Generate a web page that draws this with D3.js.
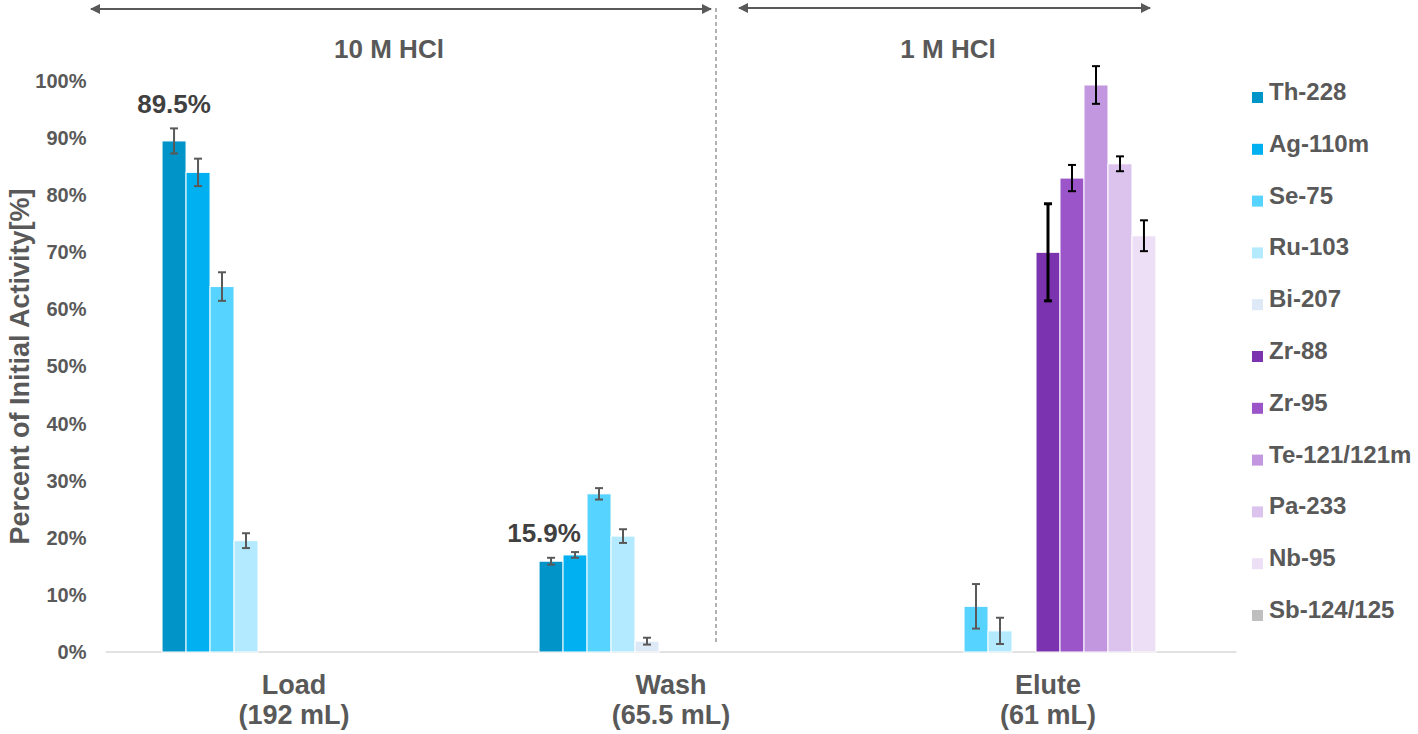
<!DOCTYPE html>
<html>
<head>
<meta charset="utf-8">
<script src="https://cdn.jsdelivr.net/npm/d3@7"></script>
<style>
  html, body { margin: 0; padding: 0; background: #fff; }
  svg { display: block; font-family: "Liberation Sans", Arial, sans-serif; }
</style>
</head>
<body>
<svg id="chart" width="1418" height="734"></svg>
<script>
// ---------------- DATA ----------------
const categories = ["Load", "Wash", "Elute"];
const categoryVolumes = ["(192 mL)", "(65.5 mL)", "(61 mL)"];
const seriesNames = ["Th-228", "Ag-110m", "Se-75", "Ru-103", "Bi-207", "Zr-88", "Zr-95", "Te-121/121m", "Pa-233", "Nb-95", "Sb-124/125"];

// percent of initial activity per category (Load, Wash, Elute); null = no bar
const th228  = [89.5, 15.9, null];
const ag110m = [84.0, 17.0, null];
const se75   = [64.0, 27.7, 8.0];
const ru103  = [19.5, 20.3, 3.7];
const bi207  = [null, 1.9, null];
const zr88   = [null, null, 70.0];
const zr95   = [null, null, 83.0];
const te121  = [null, null, 99.3];
const pa233  = [null, null, 85.5];
const nb95   = [null, null, 72.9];
const sb124  = [null, null, null];

// error (+/-, percent)
const th228Err  = [2.2, 0.6, null];
const ag110mErr = [2.4, 0.5, null];
const se75Err   = [2.5, 1.0, 3.9];
const ru103Err  = [1.3, 1.2, 2.3];
const bi207Err  = [null, 0.6, null];
const zr88Err   = [null, null, 8.5];
const zr95Err   = [null, null, 2.3];
const te121Err  = [null, null, 3.3];
const pa233Err  = [null, null, 1.3];
const nb95Err   = [null, null, 2.7];
const sb124Err  = [null, null, null];

const yTicks = [0, 0.1, 0.2, 0.3, 0.4, 0.5, 0.6, 0.7, 0.8, 0.9, 1.0];
const solutionLabels = ["10 M HCl", "1 M HCl"];
const annotations = [
  { series: "Th-228", category: "Load", text: "89.5%" },
  { series: "Th-228", category: "Wash", text: "15.9%" }
];

// ---------------- STYLE ----------------
const colors = ["#0094c8", "#00b0f0", "#57d3ff", "#b3eaff", "#dde9f6", "#7b33b0", "#9b55c9", "#c297df", "#dcc3ed", "#ede0f6", "#bfbfbf"];
const errColors = ["#595959", "#595959", "#595959", "#595959", "#595959", "#000", "#000", "#000", "#000", "#000", "#000"];
const errWidths = [2, 2, 2, 2, 2, 3, 2, 2, 2, 2, 2];

const values = [th228, ag110m, se75, ru103, bi207, zr88, zr95, te121, pa233, nb95, sb124];
const errors = [th228Err, ag110mErr, se75Err, ru103Err, bi207Err, zr88Err, zr95Err, te121Err, pa233Err, nb95Err, sb124Err];

const rows = [];
seriesNames.forEach((s, si) => {
  categories.forEach((c, ci) => {
    const v = values[si][ci];
    if (v != null) rows.push({ series: s, si, category: c, value: v / 100, err: errors[si][ci] != null ? errors[si][ci] / 100 : null });
  });
});

// ---------------- SCALES ----------------
const svg = d3.select("#chart");
const plotLeft = 105.5, plotRight = 1236.5, plotBottom = 652, plotTop = 81;

const x0 = d3.scaleBand().domain(categories).range([plotLeft, plotRight]).paddingInner(0.3).paddingOuter(0.15);
const x1 = d3.scaleBand().domain(seriesNames).range([0, x0.bandwidth()]);
const y = d3.scaleLinear().domain([0, 1]).range([plotBottom, plotTop]);
const color = d3.scaleOrdinal().domain(seriesNames).range(colors);

// ---------------- TOP ARROWS & DIVIDER ----------------
const defs = svg.append("defs");
["arrEnd", "arrStart"].forEach((id, i) => {
  defs.append("marker").attr("id", id)
    .attr("viewBox", "0 0 10 10").attr("refX", i === 0 ? 9 : 1).attr("refY", 5)
    .attr("markerWidth", 5).attr("markerHeight", 5).attr("markerUnits", "strokeWidth")
    .attr("orient", "auto")
    .append("path")
    .attr("d", i === 0 ? "M0,0 L10,5 L0,10 Z" : "M10,0 L0,5 L10,10 Z")
    .attr("fill", "#595959");
});

const arrows = [
  { x1: 91, x2: 711, y: 9, labelX: 389 },
  { x1: 739, x2: 1150, y: 8, labelX: 948 }
];
arrows.forEach((a, i) => {
  svg.append("line")
    .attr("x1", a.x1).attr("x2", a.x2).attr("y1", a.y).attr("y2", a.y)
    .attr("stroke", "#595959").attr("stroke-width", 2)
    .attr("marker-start", "url(#arrStart)").attr("marker-end", "url(#arrEnd)");
  svg.append("text")
    .attr("x", a.labelX).attr("y", 58)
    .attr("text-anchor", "middle")
    .style("font-family", "'Liberation Sans Narrow', 'Arial Narrow', 'Liberation Sans', sans-serif")
    .style("font-weight", "bold").style("font-size", "26px").attr("fill", "#595959")
    .text(solutionLabels[i]);
});

svg.append("line")
  .attr("x1", 716).attr("x2", 716).attr("y1", 8).attr("y2", 643)
  .attr("stroke", "#7f7f7f").attr("stroke-width", 1.2).attr("stroke-dasharray", "4,3");

// ---------------- AXES ----------------
const yAxis = svg.append("g")
  .attr("transform", `translate(${plotLeft},0)`)
  .call(d3.axisLeft(y).tickValues(yTicks).tickFormat(d3.format(".0%")).tickSize(0).tickPadding(19));
yAxis.select(".domain").remove();
yAxis.selectAll("text")
  .style("font-family", "'Liberation Sans', Arial, sans-serif")
  .style("font-size", "20px").style("font-weight", "bold").attr("fill", "#595959");

svg.append("line")
  .attr("x1", plotLeft).attr("x2", plotRight).attr("y1", plotBottom).attr("y2", plotBottom)
  .attr("stroke", "#d9d9d9").attr("stroke-width", 1.5);

svg.append("text")
  .attr("transform", `translate(29,${(plotTop + plotBottom) / 2}) rotate(-90)`)
  .attr("text-anchor", "middle")
  .style("font-size", "27px").style("font-weight", "bold").attr("fill", "#595959")
  .text("Percent of Initial Activity[%]");

const xLab = svg.append("g").selectAll("text").data(categories).join("text")
  .attr("x", d => x0(d) + x0.bandwidth() / 2)
  .attr("text-anchor", "middle")
  .style("font-size", "27px").style("font-weight", "bold").attr("fill", "#595959");
xLab.append("tspan").attr("x", d => x0(d) + x0.bandwidth() / 2).attr("y", 694).text(d => d);
xLab.append("tspan").attr("x", d => x0(d) + x0.bandwidth() / 2).attr("y", 724).text((d, i) => categoryVolumes[i]);

// ---------------- BARS ----------------
svg.append("g").selectAll("rect").data(rows).join("rect")
  .attr("x", d => x0(d.category) + x1(d.series))
  .attr("y", d => y(d.value))
  .attr("width", x1.bandwidth())
  .attr("height", d => y(0) - y(d.value))
  .attr("fill", d => color(d.series))
  .attr("stroke", "#fff").attr("stroke-width", 1);

// ---------------- ERROR BARS ----------------
const eg = svg.append("g");
rows.filter(d => d.err != null).forEach(d => {
  const cx = x0(d.category) + x1(d.series) + x1.bandwidth() / 2;
  const yt = y(d.value + d.err), yb = y(d.value - d.err);
  const st = errColors[d.si], sw = errWidths[d.si];
  const cap = 4;
  eg.append("line").attr("x1", cx).attr("x2", cx).attr("y1", yt).attr("y2", yb).attr("stroke", st).attr("stroke-width", sw);
  eg.append("line").attr("x1", cx - cap).attr("x2", cx + cap).attr("y1", yt).attr("y2", yt).attr("stroke", st).attr("stroke-width", sw);
  eg.append("line").attr("x1", cx - cap).attr("x2", cx + cap).attr("y1", yb).attr("y2", yb).attr("stroke", st).attr("stroke-width", sw);
});

// ---------------- ANNOTATIONS ----------------
const annOffsets = [{ dx: 0, dy: -28 }, { dx: -7, dy: -19 }];
annotations.forEach((a, i) => {
  const si = seriesNames.indexOf(a.series), ci = categories.indexOf(a.category);
  const cx = x0(a.category) + x1(a.series) + x1.bandwidth() / 2;
  svg.append("text")
    .attr("x", cx + annOffsets[i].dx).attr("y", y(values[si][ci] / 100) + annOffsets[i].dy)
    .attr("text-anchor", "middle")
    .style("font-size", "26px").style("font-weight", "bold").attr("fill", "#404040")
    .text(a.text);
});

// ---------------- LEGEND ----------------
const legend = svg.append("g").selectAll("g").data(seriesNames).join("g")
  .attr("transform", (d, i) => `translate(1252,${100 + i * 51.8})`);
legend.append("rect").attr("x", 0).attr("y", -8).attr("width", 11).attr("height", 11).attr("fill", d => color(d));
legend.append("text").attr("x", 17).attr("y", 0)
  .style("font-size", "24px").style("font-weight", "bold").attr("fill", "#595959")
  .text(d => d);
</script>
</body>
</html>
